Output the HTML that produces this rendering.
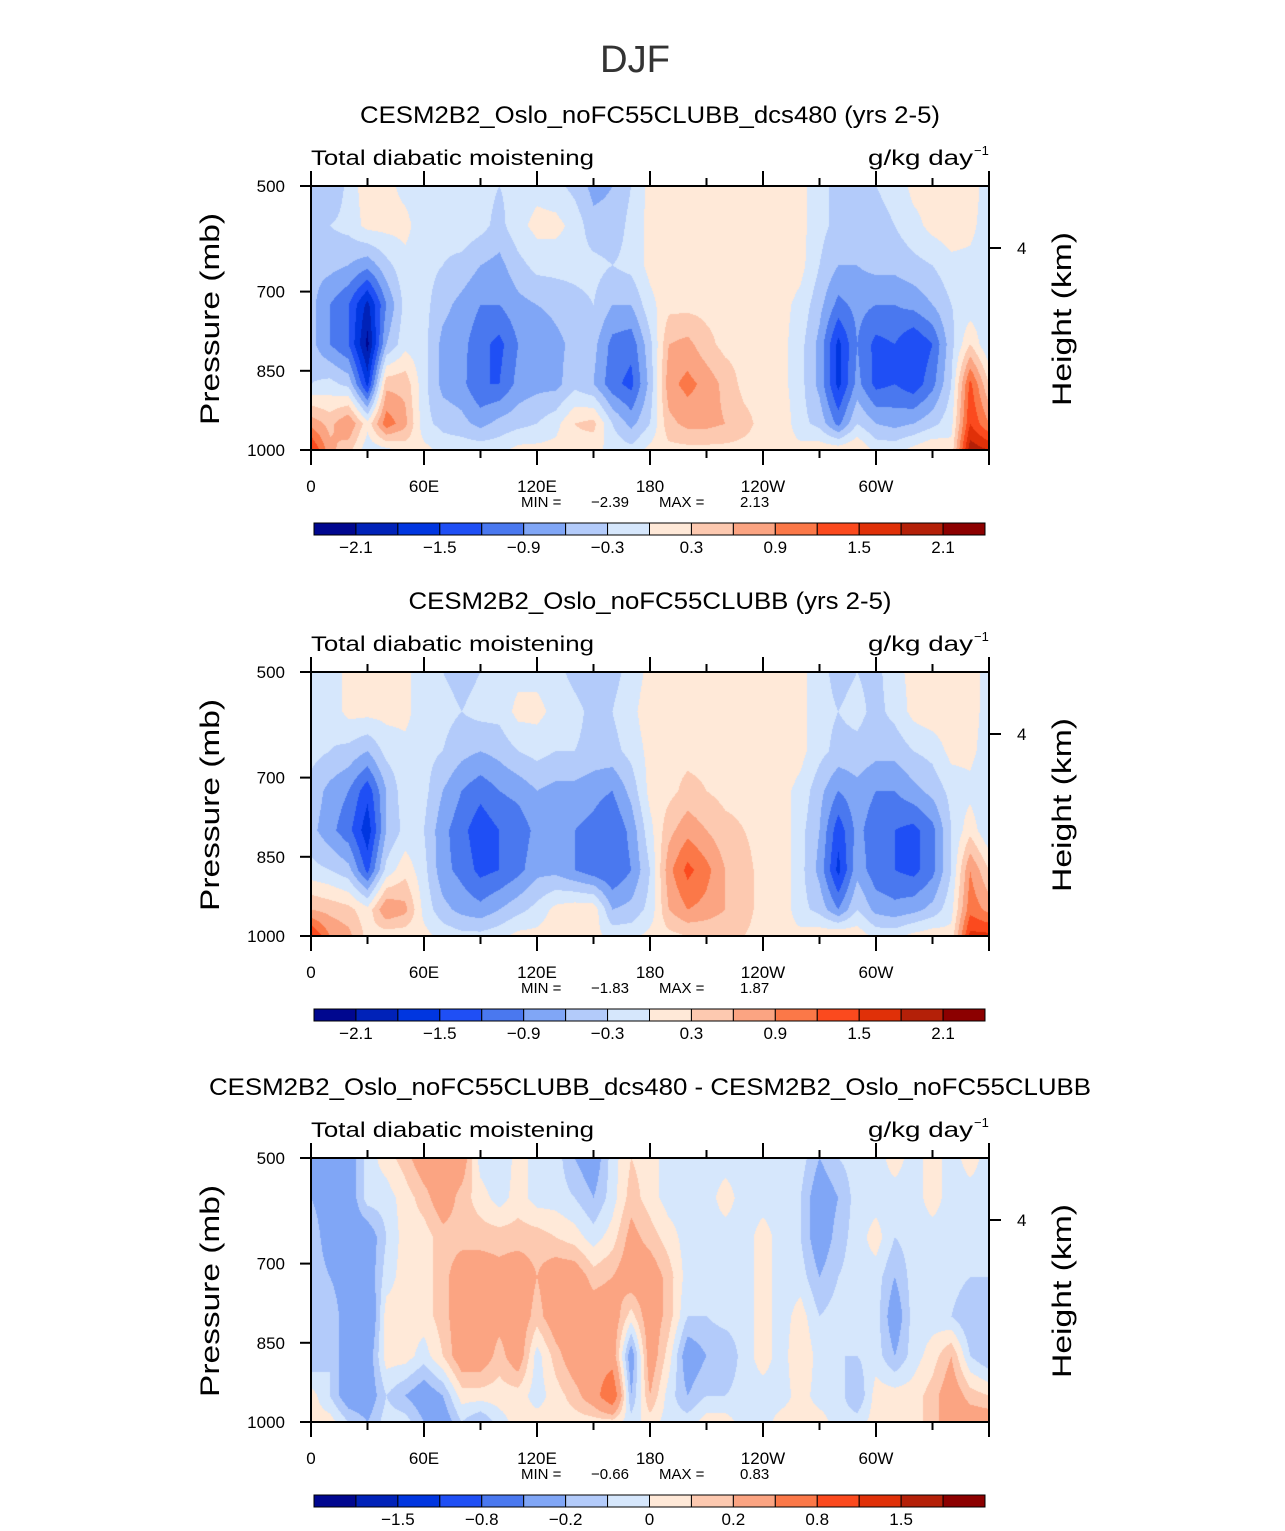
<!DOCTYPE html>
<html><head><meta charset="utf-8">
<style>
html,body{margin:0;padding:0;background:#fff;}
#wrap{position:relative;width:1285px;height:1531px;overflow:hidden;font-family:"Liberation Sans",sans-serif;}
canvas{position:absolute;}
svg{position:absolute;left:0;top:0;}
</style></head>
<body>
<div id="wrap">
<canvas id="c0" width="678" height="264" style="left:311px;top:186px"></canvas>
<canvas id="c1" width="678" height="264" style="left:311px;top:672px"></canvas>
<canvas id="c2" width="678" height="264" style="left:311px;top:1158px"></canvas>
<svg id="svg" width="1285" height="1531">
<text x="635" y="72" text-anchor="middle" font-size="38" fill="#333" textLength="70" lengthAdjust="spacingAndGlyphs">DJF</text>
</svg>
</div>
<script>
// Data grids: each inner array is one longitude column (0..360 step 10), values at pressures below
const lons = [0,10,20,30,40,50,60,70,80,90,100,110,120,130,140,150,160,170,180,190,200,210,220,230,240,250,260,270,280,290,300,310,320,330,340,350,360];
const pressures = [500,575,650,725,800,875,950,1000];
const field1 = [
[-0.3,-0.3,-0.5,-0.5,-0.5,-0.3,0.8,1.6],
[-0.6,-0.3,-0.5,-0.9,-0.9,-0.2,0.5,0.7],
[-0.2,-0.2,-0.6,-1.2,-1.2,-0.4,0.9,0.4],
[0.2,0.1,-0.8,-1.9,-2.2,-1.6,0.1,-0.2],
[0.1,0.1,-0.4,-0.9,-0.6,0.5,1.1,-0.1],
[-0.1,0.1,-0.1,-0.2,-0.1,0.5,0.7,0.1],
[-0.2,-0.2,-0.2,-0.2,-0.2,-0.2,-0.2,0.1],
[-0.2,-0.2,-0.3,-0.5,-0.7,-0.7,-0.4,-0.1],
[-0.2,-0.1,-0.4,-0.7,-0.8,-0.8,-0.5,-0.1],
[-0.2,-0.2,-0.6,-0.9,-1.1,-1.2,-0.7,-0.1],
[-0.3,-0.4,-0.7,-0.9,-1.3,-1.2,-0.5,-0.1],
[-0.2,-0.1,-0.4,-0.7,-0.9,-0.8,-0.4,0.1],
[-0.1,0.1,-0.2,-0.6,-0.9,-0.7,-0.3,0.1],
[-0.2,0.1,-0.2,-0.5,-0.7,-0.7,-0.1,0.1],
[-0.4,-0.1,-0.2,-0.4,-0.5,-0.4,0.3,0.2],
[-0.7,-0.5,-0.2,-0.3,-0.5,-0.6,0.4,0.1],
[-0.6,-0.5,-0.3,-0.6,-1.0,-1.1,-0.3,-0.1],
[-0.3,-0.2,-0.2,-0.6,-1.1,-1.3,-0.7,-0.2],
[0.1,0.1,0.1,-0.1,-0.4,-0.5,-0.3,0.1],
[0.2,0.2,0.2,0.2,0.6,0.8,0.5,0.2],
[0.2,0.2,0.2,0.2,0.7,1.0,0.7,0.2],
[0.2,0.2,0.2,0.2,0.4,0.8,0.7,0.2],
[0.2,0.2,0.2,0.2,0.2,0.5,0.6,0.2],
[0.2,0.2,0.2,0.2,0.2,0.2,0.4,0.2],
[0.2,0.2,0.2,0.1,0.1,0.2,0.2,0.2],
[0.2,0.2,0.2,0.1,0.1,0.1,0.2,0.1],
[0.1,0.1,0.1,-0.1,-0.2,-0.2,-0.2,0.1],
[-0.2,-0.2,-0.3,-0.5,-0.7,-0.7,-0.4,0.2],
[-0.4,-0.4,-0.6,-1.0,-1.6,-1.6,-1.0,0.2],
[-0.5,-0.4,-0.6,-0.8,-0.9,-0.8,-0.3,0.3],
[-0.3,-0.4,-0.5,-0.9,-1.3,-1.3,-0.6,-0.1],
[-0.2,-0.3,-0.5,-0.9,-1.2,-1.2,-0.7,-0.1],
[0.1,-0.1,-0.4,-0.8,-1.5,-1.4,-0.6,0.1],
[0.1,0.1,-0.3,-0.6,-1.2,-1.0,-0.4,0.3],
[0.2,0.2,-0.1,-0.3,-0.4,-0.3,-0.1,0.1],
[0.2,0.1,-0.1,-0.2,0.3,1.3,1.5,2.0],
[-0.2,-0.2,-0.2,-0.2,-0.3,0.3,0.9,1.8]
];
const field2 = [
[-0.2,-0.2,-0.2,-0.4,-0.5,-0.2,0.6,1.6],
[-0.2,-0.2,-0.3,-0.7,-0.8,-0.3,0.5,0.9],
[0.1,0.1,-0.4,-0.9,-1.1,-0.5,0.4,0.7],
[0.2,0.1,-0.6,-1.4,-1.7,-1.3,0.1,0.2],
[0.1,0.1,-0.2,-0.6,-0.6,-0.2,0.9,0.1],
[0.1,0.1,-0.1,-0.1,-0.2,0.2,0.7,0.1],
[-0.2,-0.2,-0.2,-0.2,-0.3,-0.2,-0.1,0.1],
[-0.3,-0.2,-0.3,-0.6,-0.8,-0.8,-0.5,-0.1],
[-0.4,-0.3,-0.5,-0.9,-1.1,-1.0,-0.7,-0.2],
[-0.3,-0.2,-0.6,-1.1,-1.4,-1.3,-0.8,-0.2],
[-0.2,-0.2,-0.5,-0.9,-1.2,-1.2,-0.6,-0.1],
[-0.1,0.1,-0.3,-0.8,-1.1,-1.0,-0.4,0.1],
[-0.1,0.1,-0.2,-0.6,-0.8,-0.7,-0.2,0.1],
[-0.2,-0.1,-0.3,-0.7,-0.8,-0.7,0.1,0.2],
[-0.4,-0.2,-0.3,-0.7,-0.9,-0.9,0.2,0.2],
[-0.5,-0.4,-0.4,-0.8,-1.0,-1.1,0.2,0.1],
[-0.4,-0.3,-0.4,-0.9,-1.2,-1.2,-0.6,-0.1],
[-0.2,-0.1,-0.2,-0.5,-0.8,-0.9,-0.5,-0.1],
[0.1,0.2,0.1,0.1,-0.1,-0.3,-0.2,0.1],
[0.2,0.3,0.2,0.2,0.5,0.8,0.6,0.2],
[0.2,0.2,0.2,0.4,0.8,1.3,0.9,0.3],
[0.2,0.2,0.2,0.3,0.6,1.0,0.8,0.3],
[0.2,0.2,0.2,0.2,0.4,0.6,0.6,0.3],
[0.2,0.2,0.2,0.2,0.3,0.4,0.4,0.3],
[0.2,0.2,0.2,0.2,0.2,0.2,0.2,0.2],
[0.2,0.2,0.2,0.1,0.2,0.2,0.2,0.1],
[0.1,0.1,0.1,-0.1,-0.2,-0.2,-0.2,0.1],
[-0.2,-0.2,-0.2,-0.5,-0.6,-0.7,-0.4,0.2],
[-0.4,-0.3,-0.4,-0.9,-1.4,-1.6,-0.9,0.3],
[-0.3,-0.2,-0.4,-0.7,-0.8,-0.7,-0.3,0.2],
[-0.4,-0.4,-0.5,-0.9,-1.1,-1.1,-0.7,-0.1],
[-0.1,-0.2,-0.5,-0.9,-1.2,-1.2,-0.8,-0.1],
[0.1,0.1,-0.3,-0.7,-1.3,-1.3,-0.7,0.1],
[0.2,0.2,-0.2,-0.5,-1.0,-1.0,-0.5,0.2],
[0.2,0.2,0.1,-0.2,-0.3,-0.3,-0.1,0.1],
[0.2,0.2,0.1,-0.1,0.2,0.9,1.1,1.6],
[-0.2,-0.2,-0.2,-0.3,-0.3,0.3,0.8,1.6]
];
const field3 = [
[-0.2,-0.2,-0.1,-0.1,-0.1,-0.2,0.05,0.05],
[-0.3,-0.3,-0.3,-0.2,-0.1,-0.1,-0.1,0.05],
[-0.3,-0.3,-0.3,-0.3,-0.3,-0.3,-0.3,-0.1],
[-0.05,-0.05,-0.3,-0.3,-0.4,-0.3,-0.3,-0.2],
[0.05,-0.05,-0.1,-0.05,0.05,0.05,-0.1,-0.05],
[0.15,0.05,0.05,0.05,0.05,0.05,-0.2,-0.05],
[0.3,0.15,0.05,0.05,0.05,-0.05,-0.3,-0.2],
[0.3,0.3,0.15,0.15,0.15,0.1,-0.2,-0.3],
[0.3,0.15,0.15,0.3,0.3,0.3,0.05,-0.1],
[-0.05,0.05,0.15,0.3,0.3,0.3,0.05,-0.2],
[-0.1,-0.05,0.15,0.25,0.25,0.15,0.05,-0.05],
[0.05,0.05,0.15,0.3,0.3,0.3,0.05,0.05],
[-0.05,-0.05,0.15,0.2,0.15,-0.05,-0.05,0.05],
[-0.05,-0.05,0.1,0.3,0.3,0.15,0.05,0.05],
[-0.2,-0.1,0.05,0.3,0.3,0.3,0.15,0.05],
[-0.3,-0.2,-0.05,0.15,0.3,0.3,0.3,0.05],
[-0.05,-0.05,0.05,0.2,0.3,0.3,0.6,0.05],
[0.1,0.15,0.25,0.3,0.05,-0.3,-0.2,-0.05],
[0.05,0.05,0.15,0.3,0.3,0.3,0.2,0.05],
[-0.05,-0.05,0.05,0.15,0.15,0.05,-0.05,-0.05],
[-0.05,-0.05,-0.05,-0.05,-0.1,-0.3,-0.2,-0.05],
[-0.05,-0.05,-0.05,-0.05,-0.1,-0.2,-0.1,0.05],
[-0.05,0.05,-0.05,-0.05,-0.05,-0.2,-0.1,0.05],
[-0.05,-0.05,-0.05,-0.05,-0.05,-0.05,-0.05,-0.05],
[-0.05,-0.05,0.05,0.05,0.05,0.05,-0.05,-0.05],
[-0.05,-0.05,-0.05,-0.05,-0.05,-0.05,-0.05,0.05],
[-0.05,-0.1,-0.1,-0.05,0.05,0.1,0.05,0.05],
[-0.2,-0.3,-0.3,-0.2,-0.1,-0.05,-0.05,0.05],
[-0.1,-0.2,-0.15,-0.1,-0.05,-0.1,-0.05,-0.05],
[-0.05,-0.05,-0.05,-0.05,-0.05,-0.1,-0.2,-0.05],
[-0.05,-0.05,0.05,-0.05,-0.05,-0.05,0.05,0.05],
[0.05,-0.05,-0.1,-0.2,-0.3,-0.2,0.05,0.05],
[-0.05,-0.05,-0.05,-0.05,-0.05,-0.05,0.05,0.05],
[0.05,0.05,-0.05,-0.05,-0.05,0.05,0.15,0.15],
[-0.05,-0.05,-0.05,-0.05,-0.1,0.2,0.3,0.3],
[0.05,-0.05,-0.05,-0.1,-0.2,-0.1,0.15,0.3],
[-0.05,-0.05,-0.05,-0.1,-0.2,-0.2,0.1,0.3]
];
const levelsAbs = [-2.1,-1.8,-1.5,-1.2,-0.9,-0.6,-0.3,0,0.3,0.6,0.9,1.2,1.5,1.8,2.1];
const levelsDiff = [-2,-1.5,-1,-0.8,-0.4,-0.2,-0.1,0,0.1,0.2,0.4,0.8,1,1.5,2];
const cbLabelsAbs = ["-2.1","-1.5","-0.9","-0.3","0.3","0.9","1.5","2.1"];
const cbLabelsDiff = ["-1.5","-0.8","-0.2","0","0.2","0.8","1.5"];
const lonTickLabels = ["0","60E","120E","180","120W","60W"];
const presTickLabels = [500,700,850,1000];
const panelTitles = ["CESM2B2_Oslo_noFC55CLUBB_dcs480 (yrs 2-5)","CESM2B2_Oslo_noFC55CLUBB (yrs 2-5)","CESM2B2_Oslo_noFC55CLUBB_dcs480 - CESM2B2_Oslo_noFC55CLUBB"];
const titleWidths = [580,483,882];
const minVals = ["-2.39","-1.83","-0.66"];
const maxVals = ["2.13","1.87","0.83"];

const colors = ["#00078f","#0022b8","#0036e0","#1f4ff5","#4a78ef","#80a6f6","#b3cbfa","#d6e7fc","#ffe9d8","#fdc9b0","#fba482","#fb7848","#fb4a1e","#e03008","#b42008","#8c0000"];
const rgb = colors.map(c=>[parseInt(c.substr(1,2),16),parseInt(c.substr(3,2),16),parseInt(c.substr(5,2),16)]);

const PX=311, PW=678, PH=264;
const panelTops=[186,672,1158];
const xScale = lon => PX + lon/360*PW;
const yScale = (p,top) => top + (p-500)/500*PH;

function sample(field, lon, p){
  let i = Math.min(Math.floor(lon/10), lons.length-2);
  let tx = (lon - lons[i])/10;
  let j=0; while(j<pressures.length-2 && p>pressures[j+1]) j++;
  let ty = (p-pressures[j])/(pressures[j+1]-pressures[j]);
  const a=field[i][j], b=field[i+1][j], c=field[i][j+1], d=field[i+1][j+1];
  return (a*(1-tx)+b*tx)*(1-ty)+(c*(1-tx)+d*tx)*ty;
}
function drawField(id, field, levels){
  const cv=document.getElementById(id), ctx=cv.getContext('2d');
  const img=ctx.createImageData(PW,PH);
  for(let y=0;y<PH;y++){
    const p=500+(y+0.5)/PH*500;
    for(let x=0;x<PW;x++){
      const lon=(x+0.5)/PW*360;
      const v=sample(field,lon,p);
      let k=0; while(k<levels.length && v>=levels[k]) k++;
      const c=rgb[k], o=(y*PW+x)*4;
      img.data[o]=c[0];img.data[o+1]=c[1];img.data[o+2]=c[2];img.data[o+3]=255;
    }
  }
  ctx.putImageData(img,0,0);
}
drawField('c0',field1,levelsAbs);
drawField('c1',field2,levelsAbs);
drawField('c2',field3,levelsDiff);

const svg=document.getElementById('svg');
const NS='http://www.w3.org/2000/svg';
function mk(tag, attrs, txt){
  const e=document.createElementNS(NS,tag);
  for(const k in attrs) e.setAttribute(k,attrs[k]);
  if(txt!==undefined) e.textContent=txt;
  svg.appendChild(e); return e;
}
for(let pi=0;pi<3;pi++){
  const top=panelTops[pi], bot=top+PH;
  let t=mk('text',{x:650,y:top-63,'text-anchor':'middle','font-size':24,fill:'#000',textLength:titleWidths[pi],lengthAdjust:'spacingAndGlyphs'},panelTitles[pi]);
  
  
  t=mk('text',{x:311,y:top-21,'font-size':21,fill:'#000',textLength:283,lengthAdjust:'spacingAndGlyphs'},'Total diabatic moistening');
  
  
  t=mk('text',{x:868,y:top-21,'font-size':21,fill:'#000',textLength:105,lengthAdjust:'spacingAndGlyphs'},'g/kg day');
  
  
  t=mk('text',{x:974,y:top-31,'font-size':13,fill:'#000'},'−1');
  
  
  const fr=mk('rect',{x:PX,y:top,width:PW,height:PH,fill:'none',stroke:'#000','stroke-width':2});
  
  
  for(let lon=0;lon<=360;lon+=30){
    const x=xScale(lon), L=(lon%60===0)?15:8;
    const tk=mk('line',{x1:x,y1:top,x2:x,y2:top-L,stroke:'#000','stroke-width':2});
    
    
    const bk=mk('line',{x1:x,y1:bot,x2:x,y2:bot+L,stroke:'#000','stroke-width':2});
    
    
  }
  lonTickLabels.forEach((lab,i)=>{
    const l=mk('text',{x:xScale(i*60),y:bot+42,'text-anchor':'middle','font-size':17,fill:'#000'},lab);
    
    
  });
  presTickLabels.forEach(p=>{
    const y=yScale(p,top);
    const tk=mk('line',{x1:PX,y1:y,x2:PX-11,y2:y,stroke:'#000','stroke-width':2});
    
    
    const l=mk('text',{x:285,y:y+6,'text-anchor':'end','font-size':17,fill:'#000'},String(p));
    
    
  });
  const hy=top+62;
  const rt=mk('line',{x1:PX+PW,y1:hy,x2:PX+PW+12,y2:hy,stroke:'#000','stroke-width':2});
  
  
  t=mk('text',{x:1017,y:hy+6,'font-size':17,fill:'#000'},'4');
  
  
  t=mk('text',{x:0,y:0,'text-anchor':'middle','font-size':27,fill:'#000',textLength:212,lengthAdjust:'spacingAndGlyphs',transform:`translate(219,${top+133}) rotate(-90)`},'Pressure (mb)');
  
  
  t=mk('text',{x:0,y:0,'text-anchor':'middle','font-size':27,fill:'#000',textLength:174,lengthAdjust:'spacingAndGlyphs',transform:`translate(1071,${top+133}) rotate(-90)`},'Height (km)');
  
  
  t=mk('text',{x:521,y:bot+57,'font-size':15,fill:'#000'},'MIN =');
  
  
  t=mk('text',{x:591,y:bot+57,'font-size':15,fill:'#000'},'−'+minVals[pi].replace('-',''));
  
  
  t=mk('text',{x:659,y:bot+57,'font-size':15,fill:'#000'},'MAX =');
  
  
  t=mk('text',{x:740,y:bot+57,'font-size':15,fill:'#000'},maxVals[pi]);
  
  
  const cby=bot+73, cbx=314, cbw=671/16;
  for(let k=0;k<16;k++){
    const r=mk('rect',{x:cbx+k*cbw,y:cby,width:cbw,height:12,fill:colors[k],stroke:'#000','stroke-width':1});
    
    
  }
  const labs = pi<2 ? cbLabelsAbs : cbLabelsDiff;
  labs.forEach((lab,i)=>{
    const bi = pi<2 ? (i*2+1) : (i*2+2);
    const l=mk('text',{x:cbx+bi*cbw,y:cby+30,'text-anchor':'middle','font-size':17,fill:'#000'},lab.replace('-','−'));
    
    
  });
}
</script>
</body></html>
